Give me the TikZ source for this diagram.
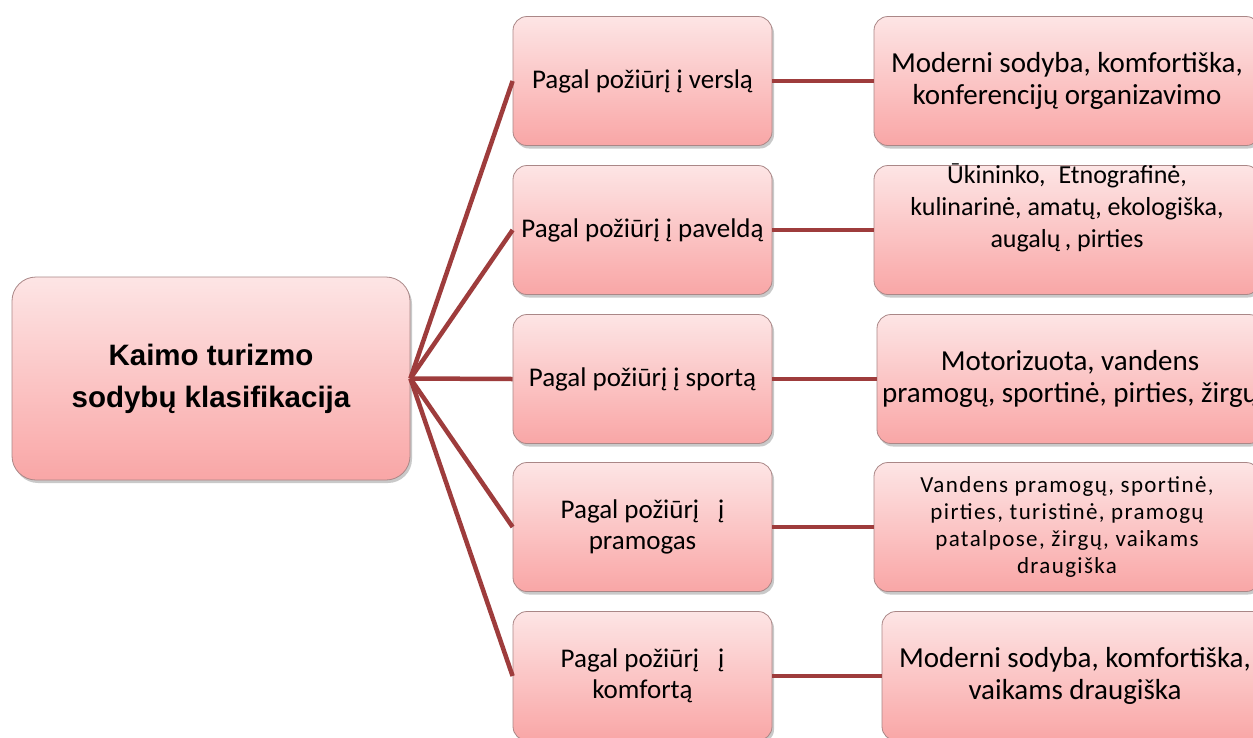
\documentclass[tikz,border=0pt]{standalone}
\usepackage{fontspec}
\setmainfont{Carlito}
\newfontfamily\rootfont{Liberation Sans}
\usetikzlibrary{shadows}
\definecolor{boxtop}{RGB}{253,229,229}
\definecolor{boxbot}{RGB}{249,166,166}
\definecolor{boxedge}{RGB}{170,135,135}
\definecolor{link}{RGB}{158,60,60}
\begin{document}
\begin{tikzpicture}[x=1pt,y=-1pt,
  box/.style={rounded corners=14pt, draw=boxedge, line width=0.8pt,
    top color=boxtop, bottom color=boxbot,
    drop shadow={shadow xshift=2pt, shadow yshift=-3pt, opacity=0.35, fill=black!60},
    align=center, inner sep=3pt},
  rootbox/.style={box, rounded corners=24pt, minimum width=398pt, minimum height=203pt,
    font=\rootfont\bfseries\fontsize{29.5}{42}\selectfont},
  midbox/.style={box, minimum width=259pt, minimum height=129pt,
    font=\fontsize{27}{31}\selectfont},
  rightbox/.style={box, minimum width=386pt, minimum height=129pt,
    font=\fontsize{29}{32}\selectfont},
  rtext/.style={align=center, inner sep=0pt},
  link/.style={draw=link, line width=4.5pt}]
\path[fill=white] (0,0) rectangle (1253,737);
\useasboundingbox (0,0) rectangle (1253,737);

\node[rootbox] (root) at (211,378.5) {Kaimo turizmo\\sodybų klasifikacija};

\node[midbox] (m1) at (642.5,81) {Pagal požiūrį į verslą};
\node[midbox] (m2) at (642.5,230) {Pagal požiūrį į paveldą};
\node[midbox] (m3) at (642.5,379) {Pagal požiūrį į sportą};
\node[midbox] (m4) at (642.5,527) {Pagal požiūrį\hspace{0.7em}į\\pramogas};
\node[midbox] (m5) at (642.5,676) {Pagal požiūrį\hspace{0.7em}į\\komfortą};

\node[rightbox] (r1) at (1067,81) {Moderni sodyba, komfortiška,\\konferencijų organizavimo};
\node[rightbox] (r2) at (1067,230) {};
\node[rtext, font=\fontsize{26}{32}\selectfont] (t2) at (1067,208)
  {Ūkininko,\hspace{0.5em}Etnografinė,\\kulinarinė, amatų, ekologiška,\\augalų\,, pirties};
\node[rightbox] (r3) at (1070,379) {Motorizuota, vandens\\pramogų, sportinė, pirties, žirgų};
\node[rightbox, font=\addfontfeatures{LetterSpace=6}\fontsize{23}{27.3}\selectfont] (r4) at (1067,527)
  {Vandens pramogų, sportinė,\\pirties, turistinė, pramogų\\patalpose, žirgų, vaikams\\draugiška};
\node[rightbox] (r5) at (1075,676) {Moderni sodyba, komfortiška,\\vaikams draugiška};

\foreach \i in {1,...,5} {
  \draw[link] (root.east) -- (m\i.west);
  \draw[link] (m\i.east) -- (r\i.west);
}
\end{tikzpicture}
\end{document}
